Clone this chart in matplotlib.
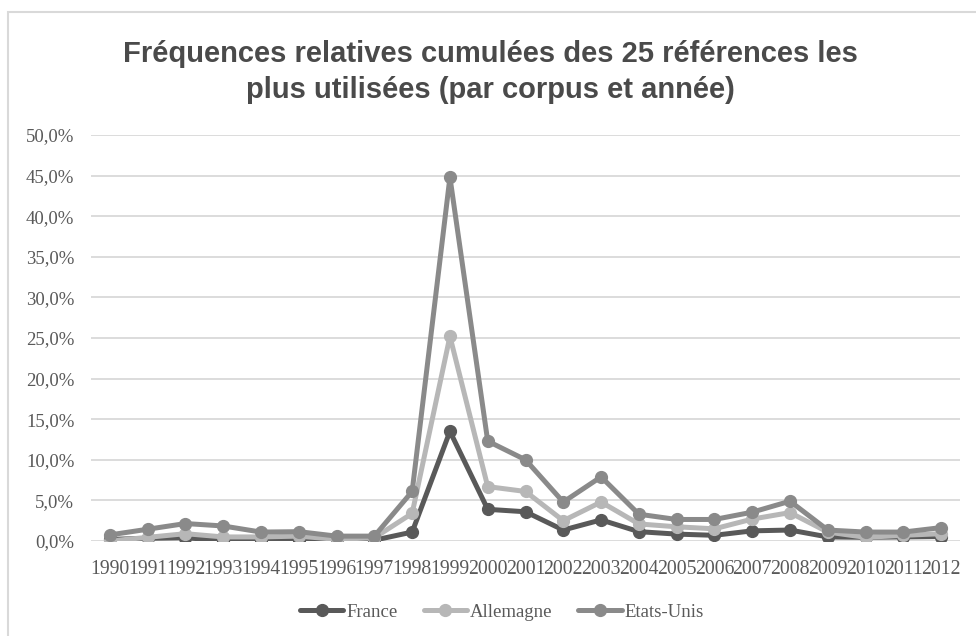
import matplotlib
matplotlib.use("Agg")
import matplotlib.pyplot as plt
from matplotlib.patches import Rectangle
from matplotlib.ticker import FuncFormatter

years = [str(y) for y in range(1990, 2013)]
france = [0.2, 0.33, 0.4, 0.05, 0.1, 0.1, 0.1, 0.1, 1.1, 13.5, 3.9, 3.6, 1.35,
          2.6, 1.15, 0.85, 0.7, 1.25, 1.35, 0.5, 0.45, 0.5, 0.55]
allemagne = [0.0, 0.45, 0.9, 0.5, 0.5, 0.6, 0.2, 0.4, 3.4, 25.2, 6.7, 6.1, 2.5,
             4.8, 2.1, 1.75, 1.5, 2.7, 3.5, 1.1, 0.45, 0.7, 0.9]
etats_unis = [0.75, 1.45, 2.15, 1.85, 1.1, 1.15, 0.6, 0.6, 6.1, 44.8, 12.3, 10.0, 4.8,
              7.9, 3.3, 2.65, 2.65, 3.55, 4.9, 1.35, 1.1, 1.1, 1.65]

series = [("France", france, "#595959"),
          ("Allemagne", allemagne, "#b7b7b7"),
          ("Etats-Unis", etats_unis, "#8a8a8a")]

W, H = 976, 636
fig = plt.figure(figsize=(W / 100, H / 100), dpi=100)
ax = fig.add_axes([91 / W, 1 - 541 / H, (960 - 91) / W, (541 - 135) / H])

x = list(range(len(years)))
for name, vals, col in series:
    ax.plot(x, [v / 100 for v in vals], color=col, lw=3.6, marker="o", ms=8.5,
            label=name, solid_capstyle="round")

ax.set_xlim(-0.5, len(years) - 0.5)
ax.set_ylim(0, 0.5)
ax.set_yticks([i * 0.05 for i in range(11)])
ax.yaxis.set_major_formatter(FuncFormatter(lambda v, p: f"{v*100:.1f}%".replace(".", ",")))
ax.set_xticks(x)
ax.set_xticklabels(years)
ax.grid(axis="y", color="#d9d9d9", lw=1.3)
ax.set_axisbelow(True)
for s in ax.spines.values():
    s.set_visible(False)
ax.tick_params(length=0, labelcolor="#595959", labelsize=13.5)
ax.tick_params(axis="x", pad=14, labelsize=14.2)
ax.tick_params(axis="y", pad=12)
for lab in ax.get_xticklabels() + ax.get_yticklabels():
    lab.set_family("Liberation Serif")

fig.text(490 / W, 1 - 72 / H,
         "Fréquences relatives cumulées des 25 références les\nplus utilisées (par corpus et année)",
         ha="center", va="center", fontsize=21, fontweight="bold",
         family="Liberation Sans", color="#4a4a4a", linespacing=1.4)

leg = fig.legend(loc="center", bbox_to_anchor=(502 / W, 1 - 612 / H), ncol=3,
                 frameon=False, prop={"family": "Liberation Serif", "size": 13.5},
                 handlelength=2.3, handletextpad=0.15, columnspacing=1.4, markerscale=1.0)
for t in leg.get_texts():
    t.set_color("#595959")

fig.patches.append(Rectangle((8 / W, -0.1), 1.2, 1.1 - 12 / H + 0.0, transform=fig.transFigure,
                             fill=False, edgecolor="#d9d9d9", lw=1.5, clip_on=False))

fig.savefig("out.png", dpi=100, facecolor="white")
